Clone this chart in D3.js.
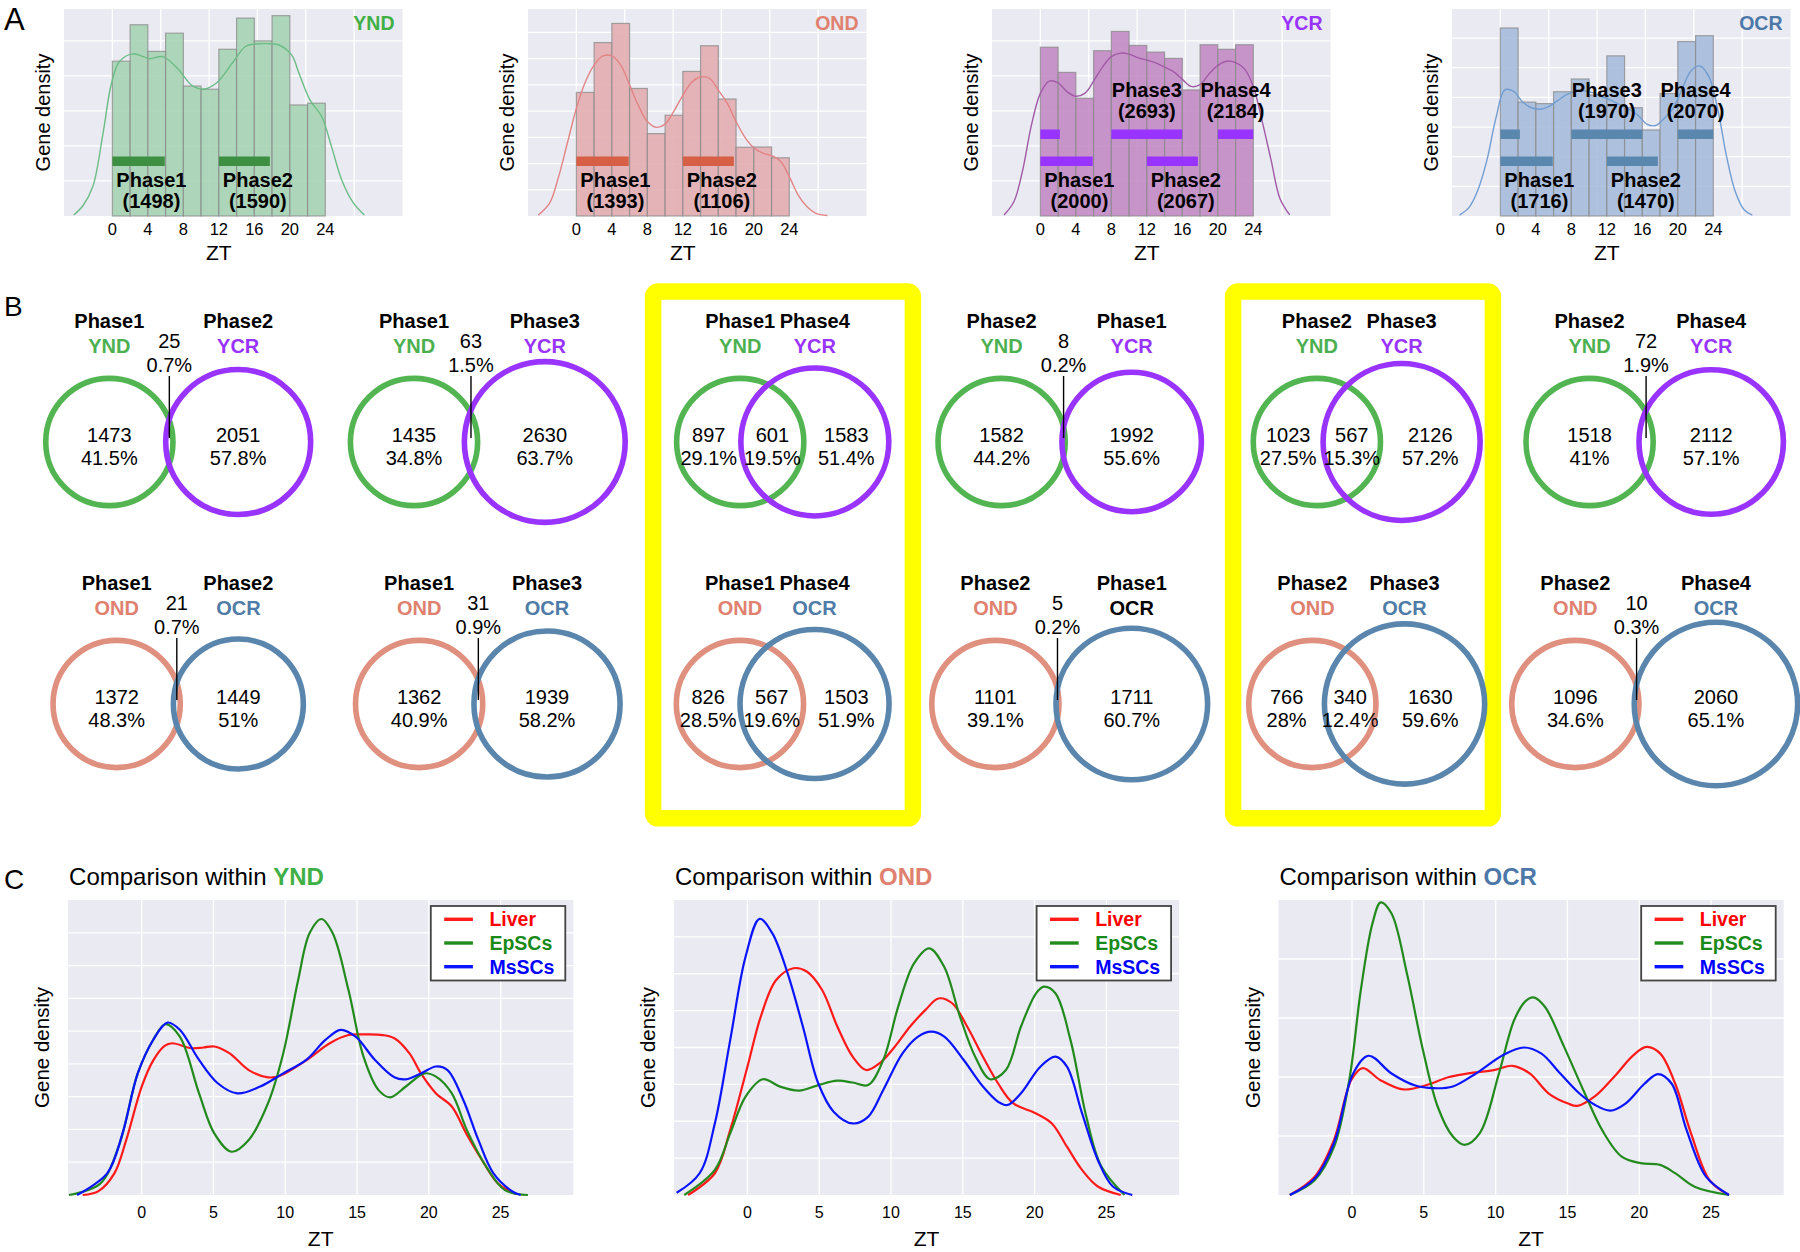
<!DOCTYPE html>
<html><head><meta charset="utf-8">
<script src="https://cdn.jsdelivr.net/npm/d3@7"></script>
<style>
body{margin:0;background:#fff;}
svg{display:block;font-family:"Liberation Sans",Arial,Helvetica,sans-serif;}
</style>
</head><body>
<svg id="fig" width="1800" height="1252"></svg>
<script>
// ================= DATA =================
// ---- Panel A : histograms (12 bins of 2 h, density in grid units) ----
const groupsA = ["YND","OND","YCR","OCR"];
const binStarts = [0,2,4,6,8,10,12,14,16,18,20,22];
const binWidth = 2;
const histYND = [4.42,5.46,4.70,5.22,3.71,3.62,4.76,5.65,5.00,5.72,3.17,3.22];
const histOND = [4.71,6.61,7.34,4.86,3.14,3.84,5.51,6.49,4.46,2.62,2.63,2.22];
const histYCR = [4.82,4.10,3.36,4.72,5.27,4.87,4.68,4.50,3.60,4.89,4.76,4.89];
const histOCR = [6.34,3.84,3.79,4.19,4.62,4.08,5.40,3.65,2.90,4.13,5.88,6.08];
const yMaxA = [5.91,7.89,5.91,6.98];

const kdeYND = [[-4.35,0.03],[-3.3,0.3],[-2.2,0.84],[-1.05,2.36],[-0.1,3.79],[0.8,4.41],[2.3,4.63],[3.5,4.55],[4.2,4.49],[5.7,4.55],[7.5,4.17],[8.9,3.74],[10.2,3.62],[11.7,3.79],[13.5,4.36],[15,4.84],[16.1,4.91],[17.5,4.92],[18.7,4.89],[20.2,4.6],[21,4.1],[22.3,3.3],[23.6,2.84],[24.7,1.98],[25.85,1.03],[27.2,0.36],[28.4,0.03]];
const kdeOND = [[-4.3,0.03],[-3,0.5],[-2,1.5],[-1,2.8],[0,4.1],[1,5.1],[2,5.75],[3,6.1],[4,6.1],[5,5.75],[6,5.0],[7,4.2],[8,3.6],[9,3.38],[10,3.5],[11,4.0],[12,4.6],[13,5.1],[14,5.3],[15,5.25],[16,4.8],[17,4.3],[18,3.6],[19,3.0],[20,2.6],[21,2.4],[22,2.3],[23,2.1],[24,1.5],[25,0.8],[26,0.35],[27,0.1],[28.3,0.02]];
const kdeYCR = [[-4.1,0.03],[-3,0.4],[-2,1.3],[-1,2.6],[0,3.5],[1,3.85],[2,3.8],[3,3.55],[4,3.42],[5,3.5],[6,3.85],[7,4.25],[8,4.55],[9,4.65],[10,4.62],[11,4.52],[12,4.45],[13,4.37],[14,4.25],[15,4.12],[16,3.9],[17,3.7],[18,3.75],[19,4.05],[20,4.3],[21,4.42],[22,4.38],[23,4.2],[24,3.7],[25,2.7],[26,1.6],[27,0.5],[28.1,0.03]];
const kdeOCR = [[-4.6,0.03],[-3.5,0.3],[-2.5,0.9],[-1.5,1.9],[-0.5,3.3],[0.5,4.25],[1.5,4.2],[2.5,3.85],[3.5,3.65],[4.5,3.6],[5.5,3.7],[6.5,3.9],[7.5,4.1],[8.5,4.2],[9.5,4.22],[10.5,4.15],[11.5,4.02],[12.5,3.9],[13.5,3.75],[14.5,3.6],[15.5,3.4],[16.5,3.1],[17.5,3.05],[18.5,3.3],[19.5,3.65],[20.5,4.3],[21.5,4.9],[22.5,5.06],[23.5,4.7],[24.5,3.6],[25.5,2.0],[26.5,0.8],[27.5,0.2],[28.4,0.03]];

// phase windows (ZT) and gene counts
const phaseNames = ["Phase1","Phase2","Phase3","Phase4"];
const phaseRanges = [[[0,5.9]],[[12,17.75]],[[8,16]],[[20,24],[0,2.2]]];
const phaseCountsYND = [1498,1590];
const phaseCountsOND = [1393,1106];
const phaseCountsYCR = [2000,2067,2693,2184];
const phaseCountsOCR = [1716,1470,1970,2070];

const ticksA = [0,4,8,12,16,20,24];
const gridXA = [0,5.45,10.9,16.35,21.8,27.25];

// ---- Panel B : Venn diagrams ----
const vennLeftPhase  = ["Phase1","Phase1","Phase1","Phase2","Phase2","Phase2"];
const vennRightPhase = ["Phase2","Phase3","Phase4","Phase1","Phase3","Phase4"];
const vennRowGroups = [["YND","YCR"],["OND","OCR"]];
const leftOnly1  = [1473,1435,897,1582,1023,1518];
const overlap1   = [25,63,601,8,567,72];
const rightOnly1 = [2051,2630,1583,1992,2126,2112];
const leftPct1   = ["41.5%","34.8%","29.1%","44.2%","27.5%","41%"];
const overlapPct1= ["0.7%","1.5%","19.5%","0.2%","15.3%","1.9%"];
const rightPct1  = ["57.8%","63.7%","51.4%","55.6%","57.2%","57.1%"];
const leftOnly2  = [1372,1362,826,1101,766,1096];
const overlap2   = [21,31,567,5,340,10];
const rightOnly2 = [1449,1939,1503,1711,1630,2060];
const leftPct2   = ["48.3%","40.9%","28.5%","39.1%","28%","34.6%"];
const overlapPct2= ["0.7%","0.9%","19.6%","0.2%","12.4%","0.3%"];
const rightPct2  = ["51%","58.2%","51.9%","60.7%","59.6%","65.1%"];
const highlighted = [2,4];

// ---- Panel C : KDE comparison ----
const tissues = ["Liver","EpSCs","MsSCs"];
const groupsC = ["YND","OND","OCR"];
const yMaxC = [9,8,5];
const ticksC = [0,5,10,15,20,25];
const c1Liver = [[-4.1,0],[-3,0.12],[-1.9,0.66],[-1.07,1.68],[0,3.3],[0.8,4.1],[1.6,4.55],[2.13,4.63],[3.46,4.48],[4.3,4.5],[5.06,4.53],[6.13,4.32],[7.46,3.81],[8.8,3.59],[9.6,3.63],[11.5,4.12],[13.1,4.63],[14.4,4.88],[15.5,4.9],[16.8,4.88],[17.6,4.78],[18.65,4.32],[19.45,3.71],[20.5,3.1],[21.6,2.7],[22.6,1.88],[23.7,1.07],[24.8,0.36],[26.1,0.02]];
const c1EpSCs = [[-5.06,0],[-2.9,0.34],[-1.6,1.48],[-0.27,3.71],[0.8,4.73],[1.65,5.21],[2.66,4.83],[4.0,3.1],[5.06,1.88],[6.26,1.32],[7.46,1.68],[8.8,2.8],[9.86,4.32],[10.9,6.56],[11.7,7.99],[12.52,8.42],[13.3,7.99],[14.4,6.26],[15.45,4.22],[16.5,3.2],[17.3,2.98],[18.4,3.31],[19.7,3.71],[20.5,3.61],[21.6,3.1],[22.65,1.98],[24.0,0.86],[25.3,0.15],[26.9,0]];
const c1MsSCs = [[-4.5,0],[-2.4,0.66],[-1.33,1.88],[-0.27,3.71],[0.8,4.73],[1.8,5.26],[2.66,5.04],[4.0,4.12],[5.3,3.41],[6.66,3.1],[8.26,3.31],[9.86,3.71],[11.46,4.12],[12.8,4.73],[13.86,5.04],[14.9,4.83],[16.25,4.12],[17.6,3.59],[18.4,3.53],[19.45,3.71],[20.5,3.92],[21.3,3.81],[22.4,2.9],[23.45,1.68],[24.5,0.66],[25.85,0.1],[26.4,0]];
const c2Liver = [[-4.13,0],[-2.27,0.59],[-1.2,1.76],[0,3.48],[0.93,4.84],[2.0,5.83],[3.2,6.15],[4.13,6.06],[5.2,5.56],[6.26,4.57],[7.33,3.75],[8.26,3.39],[9.2,3.57],[10.26,4.02],[11.33,4.57],[12.4,5.02],[13.3,5.33],[14.26,5.2],[15.3,4.57],[16.4,3.75],[17.45,3.03],[18.5,2.49],[20.1,2.21],[21.2,1.94],[22.25,1.31],[23.3,0.68],[24.4,0.23],[26,0]];
const c2EpSCs = [[-4.4,0],[-2.27,0.68],[-1.2,1.67],[-0.13,2.67],[1.07,3.14],[2.27,2.94],[3.6,2.83],[4.93,2.98],[6.26,3.1],[7.33,3.05],[8.4,2.98],[9.46,3.66],[10.5,5.11],[11.6,6.28],[12.66,6.69],[13.7,6.19],[14.8,4.84],[15.86,3.75],[16.9,3.14],[18.0,3.39],[19.05,4.57],[20.1,5.47],[20.65,5.65],[21.45,5.47],[22.5,4.2],[23.6,2.12],[24.65,0.77],[26.25,0]];
const c2MsSCs = [[-4.93,0.06],[-3.33,0.59],[-2.27,1.94],[-1.2,4.2],[-0.13,6.46],[0.85,7.49],[1.73,7.1],[2.8,6.01],[3.86,4.57],[4.93,3.03],[6.0,2.26],[7.33,1.94],[8.4,2.12],[9.46,2.85],[10.8,3.84],[11.86,4.29],[12.8,4.43],[13.73,4.29],[15.06,3.66],[16.4,2.94],[17.45,2.53],[18.1,2.44],[19.05,2.76],[20.4,3.48],[21.45,3.75],[22.25,3.48],[23.3,2.22],[24.4,0.95],[25.45,0.23],[26.8,0]];
const c3Liver = [[-4.33,0],[-2.6,0.31],[-1.26,0.93],[-0.05,1.95],[0.75,2.15],[1.95,1.95],[3.55,1.79],[5.15,1.86],[6.76,2.0],[8.1,2.06],[9.96,2.12],[11.16,2.19],[12.37,2.06],[13.7,1.72],[15.04,1.55],[15.7,1.51],[16.9,1.67],[18.24,2.0],[19.6,2.37],[20.5,2.51],[21.45,2.4],[22.5,1.89],[23.6,1.05],[24.9,0.25],[26.25,0]];
const c3EpSCs = [[-4.33,0],[-2.6,0.25],[-1.26,0.81],[-0.19,1.95],[0.61,3.47],[1.42,4.6],[2.0,4.96],[2.75,4.77],[3.82,3.76],[4.89,2.51],[5.96,1.5],[7.02,0.99],[7.83,0.85],[8.9,1.05],[10.23,2.06],[11.3,2.97],[12.1,3.29],[12.63,3.35],[13.43,3.19],[14.77,2.51],[16.1,1.78],[17.44,1.09],[18.78,0.65],[20.1,0.54],[21.45,0.51],[22.5,0.37],[23.85,0.14],[26.25,0]];
const c3MsSCs = [[-4.33,0],[-2.6,0.28],[-1.26,0.88],[0.08,2.06],[1.15,2.36],[2.75,2.06],[4.35,1.86],[5.69,1.81],[7.02,1.84],[8.63,2.06],[10.5,2.37],[11.97,2.5],[13.17,2.4],[14.5,2.06],[15.84,1.72],[16.9,1.53],[17.98,1.43],[19.04,1.55],[20.38,1.89],[21.3,2.05],[22.25,1.89],[23.3,1.1],[24.65,0.31],[26.25,0]];

// ================= STYLE / LAYOUT =================
const BG = "#eaeaf2";
const histFill = {YND:"#a6d3b3", OND:"#e2adb0", YCR:"#c38bc4", OCR:"#a6bcdb"};
const kdeColor = {YND:"#6cbc85", OND:"#e28484", YCR:"#a05aa6", OCR:"#719dd2"};
const phaseBarColor = {YND:"#3d8f42", OND:"#d65f45", YCR:"#9933ff", OCR:"#5a87ad"};
const titleColor = {YND:"#40b046", OND:"#e0806f", YCR:"#9933ff", OCR:"#4c78a8"};
const circleColor = {YND:"#52b552", OND:"#e0907f", YCR:"#9933ff", OCR:"#5a86ad"};
const vennLabelColor = {YND:"#4cb050", OND:"#e0806f", YCR:"#9933ff", OCR:"#4f7ca6"};
const tissueColor = {Liver:"#ff1a1a", EpSCs:"#238a1e", MsSCs:"#0a14ff"};
const legendTextColor = {Liver:"#ff0000", EpSCs:"#198a19", MsSCs:"#0000ff"};

const svg = d3.select("#fig");

// panel letters
svg.append("text").attr("x",4).attr("y",30).attr("font-size",31).text("A");
svg.append("text").attr("x",4).attr("y",316).attr("font-size",28).text("B");
svg.append("text").attr("x",4).attr("y",889).attr("font-size",28).text("C");

// ================= PANEL A =================
const aLefts = [64,528,992,1452];
const aW = 338.5, aTop = 9, aBot = 216;
const histData = {YND:histYND, OND:histOND, YCR:histYCR, OCR:histOCR};
const kdeData = {YND:kdeYND, OND:kdeOND, YCR:kdeYCR, OCR:kdeOCR};
const phaseCounts = {YND:phaseCountsYND, OND:phaseCountsOND, YCR:phaseCountsYCR, OCR:phaseCountsOCR};

groupsA.forEach((grp, gi) => {
  const g = svg.append("g").attr("transform", `translate(${aLefts[gi]},0)`);
  const x = d3.scaleLinear().domain([-5.45, 32.7]).range([0, aW]);
  const y = d3.scaleLinear().domain([0, yMaxA[gi]]).range([aBot, aTop]);
  g.append("rect").attr("x",0).attr("y",aTop).attr("width",aW).attr("height",aBot-aTop).attr("fill",BG);
  g.selectAll(".gy").data(d3.range(1, Math.floor(yMaxA[gi])+1)).enter().append("line")
    .attr("x1",0).attr("x2",aW).attr("y1",d=>y(d)).attr("y2",d=>y(d)).attr("stroke","#fff").attr("stroke-width",1.3);
  g.selectAll(".gx").data(gridXA).enter().append("line")
    .attr("x1",d=>x(d)).attr("x2",d=>x(d)).attr("y1",aTop).attr("y2",aBot).attr("stroke","#fff").attr("stroke-width",1.3);
  g.selectAll(".bar").data(histData[grp]).enter().append("rect")
    .attr("x",(d,i)=>x(binStarts[i])).attr("width",(d,i)=>x(binStarts[i]+binWidth)-x(binStarts[i]))
    .attr("y",d=>y(d)).attr("height",d=>aBot-y(d))
    .attr("fill",histFill[grp]).attr("fill-opacity",0.9)
    .attr("stroke","#8a8a8a").attr("stroke-opacity",0.75).attr("stroke-width",1.2);
  const line = d3.line().x(d=>x(d[0])).y(d=>y(d[1])).curve(d3.curveCatmullRom.alpha(0.5));
  g.append("path").attr("d",line(kdeData[grp])).attr("fill","none").attr("stroke",kdeColor[grp]).attr("stroke-width",1.4);
  phaseCounts[grp].forEach((cnt, pi) => {
    const upper = pi >= 2;
    const barTop = upper ? 129.5 : 156.5;
    phaseRanges[pi].forEach(r => {
      g.append("rect").attr("x",x(r[0])).attr("width",x(r[1])-x(r[0]))
        .attr("y",barTop).attr("height",9.5).attr("fill",phaseBarColor[grp]);
    });
    const main = phaseRanges[pi][0];
    const cx = upper ? x((main[0]+main[1])/2) : x(main[0]+4.4);
    const by = upper ? 96.5 : 186.5;
    g.append("text").attr("x",cx).attr("y",by).attr("text-anchor","middle")
      .attr("font-weight","bold").attr("font-size",20).text(phaseNames[pi]);
    g.append("text").attr("x",cx).attr("y",by+21.5).attr("text-anchor","middle")
      .attr("font-weight","bold").attr("font-size",20).text(`(${cnt})`);
  });
  g.append("text").attr("x",aW-8).attr("y",30).attr("text-anchor","end")
    .attr("font-weight","bold").attr("font-size",19.5).attr("fill",titleColor[grp]).text(grp);
  g.selectAll(".tk").data(ticksA).enter().append("text")
    .attr("x",d=>x(d)).attr("y",235).attr("text-anchor","middle").attr("font-size",16.5).text(d=>d);
  g.append("text").attr("x",x(12)).attr("y",260).attr("text-anchor","middle").attr("font-size",21).text("ZT");
  g.append("text").attr("transform",`translate(-14,${(aTop+aBot)/2}) rotate(-90)`)
    .attr("text-anchor","middle").attr("font-size",20).text("Gene density");
});

// ================= PANEL B =================
const vennCols = [178.2,487.8,782.7,1069.7,1366.7,1654.7];
const vennRowsY = [442,704];
const R0 = 63.6;                                  // radius of the left set circle
const rScale = ratio => R0*Math.pow(ratio, 0.4);  // right circle radius vs left
const vennRows = [
  {lo:leftOnly1, ov:overlap1, ro:rightOnly1, lp:leftPct1, op:overlapPct1, rp:rightPct1},
  {lo:leftOnly2, ov:overlap2, ro:rightOnly2, lp:leftPct2, op:overlapPct2, rp:rightPct2}
];

highlighted.forEach(ci => {
  const cx = ci === 2 ? 783 : 1363;
  svg.append("rect").attr("x",cx-129.9).attr("y",291.5).attr("width",259.8).attr("height",526.8)
    .attr("rx",5).attr("fill","none").attr("stroke","#ffff00").attr("stroke-width",16.5);
});

function lensArea(r1, r2, d){
  if (d >= r1+r2) return 0;
  if (d <= Math.abs(r1-r2)) return Math.PI*Math.min(r1,r2)**2;
  const a = r1*r1*Math.acos((d*d+r1*r1-r2*r2)/(2*d*r1));
  const b = r2*r2*Math.acos((d*d+r2*r2-r1*r1)/(2*d*r2));
  const c = 0.5*Math.sqrt((-d+r1+r2)*(d+r1-r2)*(d-r1+r2)*(d+r1+r2));
  return a+b-c;
}

vennRows.forEach((row, ri) => {
  const [gL, gR] = vennRowGroups[ri];
  row.lo.forEach((lo, i) => {
    const ov = row.ov[i], ro = row.ro[i];
    const nL = lo+ov, nR = ro+ov;
    const r1 = R0, r2 = rScale(nR/nL);
    const target = Math.PI*r1*r1*ov/nL;
    let dLo = Math.abs(r1-r2)+1e-6, dHi = r1+r2;
    for (let k=0;k<80;k++){ const m=(dLo+dHi)/2; if (lensArea(r1,r2,m) > target) dLo=m; else dHi=m; }
    const d = (dLo+dHi)/2;
    const mid = vennCols[i];
    const c1 = mid - (d + r2 - r1)/2, c2 = c1 + d;
    const g = svg.append("g").attr("transform",`translate(0,${vennRowsY[ri]})`);
    g.append("circle").attr("cx",c1).attr("cy",0).attr("r",r1).attr("fill","none")
      .attr("stroke",circleColor[gL]).attr("stroke-width",5.6);
    g.append("circle").attr("cx",c2).attr("cy",0).attr("r",r2).attr("fill","none")
      .attr("stroke",circleColor[gR]).attr("stroke-width",5.6);
    const T = (xx, yy, txt, opts={}) => g.append("text").attr("x",xx).attr("y",yy)
      .attr("text-anchor","middle").attr("font-size",20)
      .attr("font-weight",opts.bold?"bold":"normal").attr("fill",opts.fill||"#000").text(txt);
    T(c1,-114.5,vennLeftPhase[i],{bold:true});
    T(c2,-114.5,vennRightPhase[i],{bold:true});
    T(c1,-89.5,gL,{bold:true,fill:vennLabelColor[gL]});
    const rightLabelColor = (ri===1 && i===3) ? "#000" : vennLabelColor[gR];
    T(c2,-89.5,gR,{bold:true,fill:rightLabelColor});
    const xo = ((c2-r2)+(c1+r1))/2;
    const small = ov/Math.min(nL,nR) < 0.1;
    let xl, xr;
    if (small){
      xl = c1; xr = c2;
      T(xo,-94.5,ov); T(xo,-70.5,row.op[i]);
      g.append("line").attr("x1",xo).attr("x2",xo).attr("y1",-66).attr("y2",-4)
        .attr("stroke","#000").attr("stroke-width",1.4);
    } else {
      xl = ((c1-r1)+(c2-r2))/2; xr = ((c1+r1)+(c2+r2))/2;
      T(xo,0,ov); T(xo,22.5,row.op[i]);
    }
    T(xl,0,lo); T(xl,22.5,row.lp[i]);
    T(xr,0,ro); T(xr,22.5,row.rp[i]);
  });
});

// ================= PANEL C =================
const cLefts = [68.1,673.9,1278.5];
const cW = 505.2, cTop = 900, cBot = 1195;
const curvesC = [[c1Liver,c1EpSCs,c1MsSCs],[c2Liver,c2EpSCs,c2MsSCs],[c3Liver,c3EpSCs,c3MsSCs]];

groupsC.forEach((grp, gi) => {
  const g = svg.append("g").attr("transform",`translate(${cLefts[gi]},0)`);
  const x = d3.scaleLinear().domain([-5.12, 30.06]).range([0, cW]);
  const y = d3.scaleLinear().domain([0, yMaxC[gi]]).range([cBot, cTop]);
  g.append("rect").attr("x",0).attr("y",cTop).attr("width",cW).attr("height",cBot-cTop).attr("fill",BG);
  g.selectAll(".gy").data(d3.range(1, yMaxC[gi])).enter().append("line")
    .attr("x1",0).attr("x2",cW).attr("y1",d=>y(d)).attr("y2",d=>y(d)).attr("stroke","#fff").attr("stroke-width",1.3);
  g.selectAll(".gx").data(ticksC).enter().append("line")
    .attr("x1",d=>x(d)).attr("x2",d=>x(d)).attr("y1",cTop).attr("y2",cBot).attr("stroke","#fff").attr("stroke-width",1.3);
  const line = d3.line().x(d=>x(d[0])).y(d=>y(d[1])).curve(d3.curveCatmullRom.alpha(0.5));
  tissues.forEach((t, ti) => {
    g.append("path").attr("d",line(curvesC[gi][ti])).attr("fill","none")
      .attr("stroke",tissueColor[t]).attr("stroke-width",2.2);
  });
  g.selectAll(".tk").data(ticksC).enter().append("text")
    .attr("x",d=>x(d)).attr("y",1218).attr("text-anchor","middle").attr("font-size",16).text(d=>d);
  g.append("text").attr("x",cW/2).attr("y",1246).attr("text-anchor","middle").attr("font-size",21).text("ZT");
  g.append("text").attr("transform",`translate(-19,${(cTop+cBot)/2}) rotate(-90)`)
    .attr("text-anchor","middle").attr("font-size",20.5).text("Gene density");
  const tt = g.append("text").attr("x",1).attr("y",885).attr("font-size",24);
  tt.append("tspan").text("Comparison within ");
  tt.append("tspan").attr("fill",titleColor[grp]).attr("font-weight","bold").text(grp);
  const lg = g.append("g").attr("transform",`translate(${cW-142.5},906)`);
  lg.append("rect").attr("x",0).attr("y",0).attr("width",134.5).attr("height",74.5)
    .attr("fill","#fff").attr("stroke","#444").attr("stroke-width",1.8);
  tissues.forEach((t, ti) => {
    const yy = 13.3 + ti*23.7;
    lg.append("line").attr("x1",13.4).attr("x2",42.1).attr("y1",yy).attr("y2",yy)
      .attr("stroke",tissueColor[t]).attr("stroke-width",3.4);
    lg.append("text").attr("x",58.6).attr("y",yy+7).attr("font-size",19.5).attr("font-weight","bold")
      .attr("fill",legendTextColor[t]).text(t);
  });
});
</script>
</body></html>
